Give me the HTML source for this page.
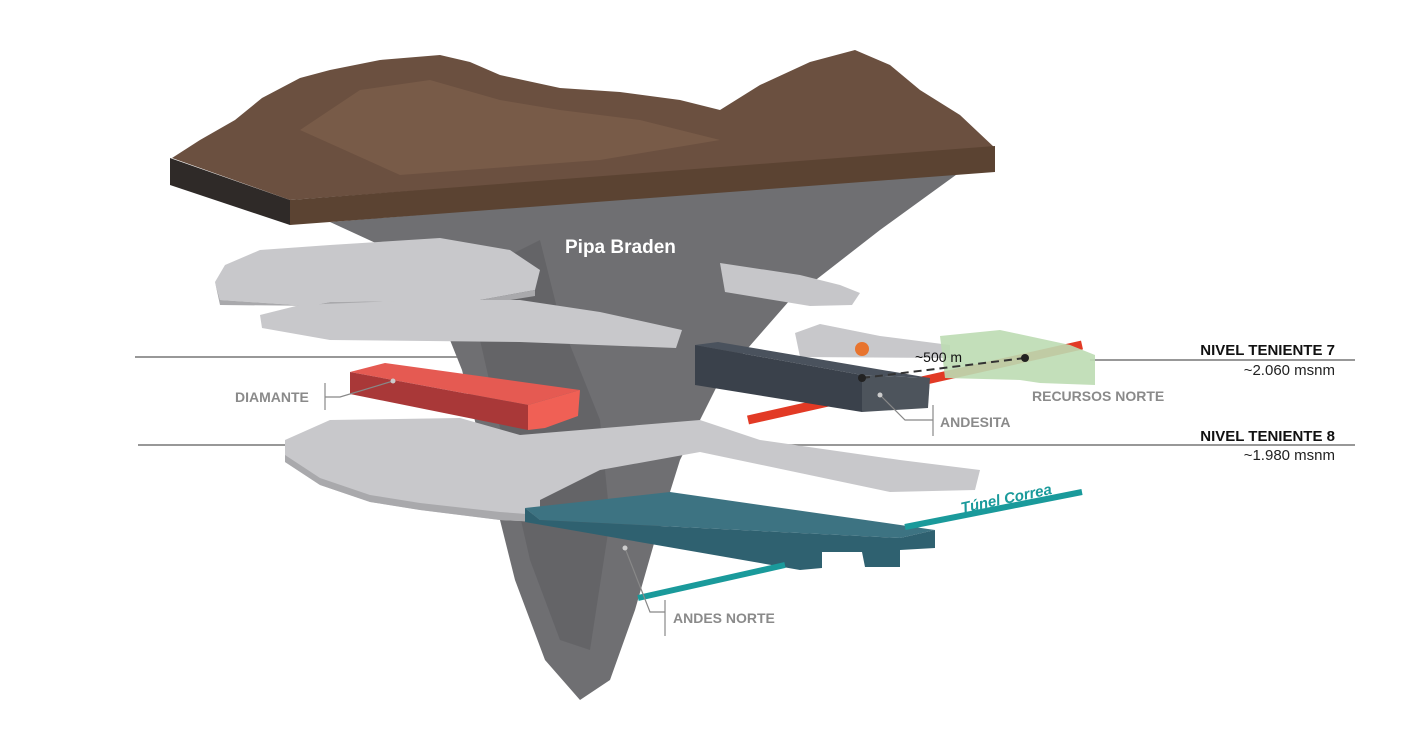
<!DOCTYPE html>
<html><head><meta charset="utf-8"><style>
body{margin:0;background:#fff}
svg{display:block}
text{font-family:"Liberation Sans",sans-serif}
</style></head><body>
<svg width="1427" height="732" viewBox="0 0 1427 732" xmlns="http://www.w3.org/2000/svg">
<!-- level lines -->
<line x1="135" y1="357" x2="470" y2="357" stroke="#777" stroke-width="1.5"/>
<line x1="1090" y1="360" x2="1355" y2="360" stroke="#777" stroke-width="1.5"/>
<line x1="138" y1="445" x2="1355" y2="445" stroke="#777" stroke-width="1.5"/>
<!-- pipe -->
<polygon points="330,222 960,172 880,230 790,300 720,380 680,460 655,540 635,610 610,680 580,700 545,660 515,580 490,480 462,370 430,290 380,245" fill="#6f6f72"/>
<polygon points="500,260 540,240 560,320 600,420 610,520 590,650 560,640 530,560 505,450 480,340" fill="#5e5e61" opacity="0.6"/>
<!-- mountain -->
<polygon points="172,158 200,140 235,120 262,98 300,78 330,70 380,60 440,55 470,62 500,75 560,88 620,92 680,100 720,110 760,85 810,62 855,50 890,65 920,90 960,115 995,148 290,200" fill="#6b5040"/>
<polygon points="300,130 360,90 430,80 500,100 560,110 640,120 700,135 720,140 600,160 400,175" fill="#7d604c" opacity="0.7"/>
<polygon points="170,158 290,200 290,225 170,185" fill="#2f2a28"/>
<polygon points="290,200 995,146 995,172 290,225" fill="#5b4332"/>
<!-- upper light slabs -->
<polygon points="720,263 800,275 840,285 860,293 852,305 810,306 725,292" fill="#c6c6c9"/>
<polygon points="225,265 260,250 330,245 440,238 510,250 540,270 535,290 480,300 330,302 310,306 220,300 215,282" fill="#c8c8cb"/>
<polygon points="215,282 220,300 310,306 330,302 480,300 535,290 535,296 480,305 330,306 220,305" fill="#a9a9ac"/>
<polygon points="260,315 300,305 420,300 520,300 600,312 682,330 676,348 520,342 330,340 262,328" fill="#c8c8cb"/>
<polygon points="795,333 820,324 880,336 950,345 950,358 800,357" fill="#c8c8cb"/>
<!-- red line -->
<line x1="748" y1="420" x2="1082" y2="345" stroke="#e23a25" stroke-width="9"/>
<!-- andesita -->
<polygon points="695,345 718,342 930,378 862,375" fill="#4a525d"/>
<polygon points="695,345 862,375 862,412 695,385" fill="#3a414b"/>
<polygon points="862,375 930,378 928,408 862,412" fill="#4d545c"/>
<!-- green -->
<polygon points="940,336 1000,330 1070,345 1095,355 1095,385 1040,383 1020,380 945,378" fill="#bcdcb3" opacity="0.9"/>
<!-- dashed -->
<line x1="862" y1="378" x2="1025" y2="358" stroke="#333" stroke-width="2" stroke-dasharray="8,5"/>
<circle cx="862" cy="378" r="4" fill="#222"/><circle cx="1025" cy="358" r="4" fill="#222"/>
<circle cx="862" cy="349" r="7" fill="#e8742e"/>
<!-- diamante -->
<polygon points="350,372 385,363 580,390 528,405" fill="#e55a52"/>
<polygon points="350,372 528,405 528,430 350,394" fill="#a93838"/>
<polygon points="528,405 580,390 578,416 545,428 528,430" fill="#f06055"/>
<!-- lower light slab -->
<polygon points="285,440 330,420 460,418 520,435 700,420 760,440 900,460 980,470 975,490 890,492 700,452 600,470 540,500 540,522 500,520 420,510 370,502 320,485 285,462" fill="#c8c8cb"/>
<polygon points="285,455 320,478 370,495 420,503 500,512 540,515 540,522 500,520 420,510 370,502 320,485 285,462" fill="#a9a9ac"/>
<!-- teal -->
<polygon points="525,508 670,492 935,530 900,538 540,520" fill="#3d7382"/>
<polygon points="525,508 540,520 900,538 935,530 935,548 900,550 900,567 865,567 862,552 822,552 822,568 800,570 525,522" fill="#2f6170"/>
<line x1="638" y1="598" x2="785" y2="565" stroke="#1a9a9b" stroke-width="6"/>
<line x1="905" y1="527" x2="1082" y2="492" stroke="#1a9a9b" stroke-width="6"/>
<!-- leaders -->
<g stroke="#888" stroke-width="1.2" fill="none">
<line x1="325" y1="383" x2="325" y2="410"/><polyline points="325,397 340,397 393,381"/>
<line x1="933" y1="405" x2="933" y2="436"/><polyline points="880,395 905,420 933,420"/>
<line x1="665" y1="600" x2="665" y2="636"/><polyline points="625,548 650,612 665,612"/>
</g>
<circle cx="393" cy="381" r="2.5" fill="#ccc"/><circle cx="880" cy="395" r="2.5" fill="#ccc"/><circle cx="625" cy="548" r="2.5" fill="#ccc"/>
<!-- labels -->
<text x="565" y="253" font-size="19" font-weight="bold" fill="#fff">Pipa Braden</text>
<text x="235" y="402" font-size="14" font-weight="bold" fill="#8a8a8a">DIAMANTE</text>
<text x="940" y="427" font-size="14" font-weight="bold" fill="#8a8a8a">ANDESITA</text>
<text x="1032" y="401" font-size="14" font-weight="bold" fill="#8a8a8a">RECURSOS NORTE</text>
<text x="673" y="623" font-size="14" font-weight="bold" fill="#8a8a8a">ANDES NORTE</text>
<text x="915" y="362" font-size="14" fill="#111">~500 m</text>
<text x="1335" y="355" font-size="15" font-weight="bold" fill="#111" text-anchor="end">NIVEL TENIENTE 7</text>
<text x="1335" y="375" font-size="15" fill="#222" text-anchor="end">~2.060 msnm</text>
<text x="1335" y="441" font-size="15" font-weight="bold" fill="#111" text-anchor="end">NIVEL TENIENTE 8</text>
<text x="1335" y="460" font-size="15" fill="#222" text-anchor="end">~1.980 msnm</text>
<text x="962" y="513" font-size="15" font-weight="bold" font-style="italic" fill="#1a9a9b" transform="rotate(-12 962 513)">Túnel Correa</text>
</svg>
</body></html>
